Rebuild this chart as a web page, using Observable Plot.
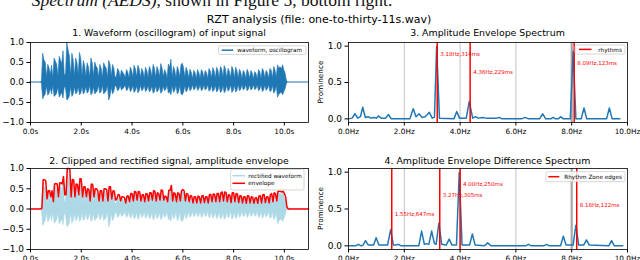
<!DOCTYPE html>
<html>
<head>
<meta charset="utf-8">
<script src="https://cdn.jsdelivr.net/npm/d3@7"></script>
<script src="https://cdn.jsdelivr.net/npm/@observablehq/plot@0.6"></script>
<style>
html,body{margin:0;padding:0;background:#fff;}
#fig{position:relative;width:640px;height:260px;overflow:hidden;background:#fff;}
#fig svg{position:absolute;overflow:visible;}
</style>
</head>
<body>
<div id="fig"></div>
<script>
// ---------------- data ----------------
const timeDomain = [0, 10.95];
const timeTicks = [0, 2, 4, 6, 8, 10];
const ampTicks = [-1, -0.5, 0, 0.5, 1];
const hzDomain = [0, 10];
const hzTicks = [0, 2, 4, 6, 8, 10];
const promTicks = [0, 0.5, 1];
const gridHz = [2, 4, 6];
const gridHzStrong = [8];

// waveform / envelope samples, every 0.05 s starting at 0.40 s
const sampleStart = 0.40, sampleStep = 0.05;
const envelope = [
  0, 0.02, 0.72, 0.72, 0.70, 0.25, 0.45, 0.45, 0.30, 0.45,
  0.18, 0.62, 0.63, 0.62, 0.30, 0.64, 0.65, 0.62, 0.80, 0.35,
  0.35, 1.00, 1.00, 0.98, 0.30, 0.73, 0.72, 0.30, 0.62, 0.60,
  0.35, 0.75, 0.74, 0.30, 0.55, 0.55, 0.30, 0.50, 0.48, 0.20,
  0.62, 0.60, 0.30, 0.50, 0.50, 0.45, 0.20, 0.45, 0.45, 0.20,
  0.50, 0.50, 0.48, 0.20, 0.55, 0.55, 0.25, 0.45, 0.44, 0.22,
  0.25, 0.35, 0.35, 0.20, 0.30, 0.30, 0.28, 0.15, 0.32, 0.32,
  0.18, 0.38, 0.38, 0.20, 0.43, 0.42, 0.22, 0.43, 0.42, 0.20,
  0.35, 0.35, 0.18, 0.38, 0.37, 0.20, 0.40, 0.40, 0.22, 0.45,
  0.44, 0.20, 0.40, 0.38, 0.22, 0.47, 0.46, 0.22, 0.32, 0.30,
  0.18, 0.46, 0.46, 0.58, 0.20, 0.40, 0.38, 0.18, 0.40, 0.38,
  0.20, 0.45, 0.48, 0.45, 0.20, 0.38, 0.36, 0.18, 0.33, 0.32,
  0.15, 0.30, 0.30, 0.15, 0.32, 0.30, 0.15, 0.32, 0.33, 0.16,
  0.30, 0.30, 0.15, 0.35, 0.36, 0.18, 0.37, 0.36, 0.18, 0.38,
  0.38, 0.18, 0.40, 0.42, 0.20, 0.42, 0.41, 0.18, 0.35, 0.34,
  0.16, 0.40, 0.40, 0.18, 0.38, 0.37, 0.16, 0.33, 0.32, 0.15,
  0.30, 0.30, 0.14, 0.33, 0.32, 0.15, 0.30, 0.29, 0.14, 0.27,
  0.28, 0.14, 0.32, 0.33, 0.15, 0.35, 0.36, 0.16, 0.30, 0.30,
  0.15, 0.35, 0.38, 0.18, 0.40, 0.38, 0.20, 0.44, 0.44, 0.43,
  0.42, 0.44, 0.38, 0.30, 0.05, 0, 0
];
const waveTop = [
  0, 0.03, 0.72, 0.55, 0.50, 0.12, 0.44, 0.35, 0.18, 0.42,
  0.10, 0.60, 0.52, 0.45, 0.15, 0.64, 0.55, 0.45, 0.78, 0.18,
  0.20, 1.00, 0.80, 0.65, 0.15, 0.72, 0.55, 0.15, 0.60, 0.48,
  0.18, 0.74, 0.58, 0.15, 0.54, 0.42, 0.14, 0.48, 0.38, 0.11,
  0.60, 0.48, 0.15, 0.50, 0.40, 0.35, 0.11, 0.44, 0.35, 0.11,
  0.48, 0.40, 0.35, 0.11, 0.54, 0.45, 0.14, 0.44, 0.35, 0.12,
  0.14, 0.34, 0.28, 0.11, 0.30, 0.24, 0.20, 0.10, 0.31, 0.25,
  0.10, 0.37, 0.30, 0.12, 0.42, 0.33, 0.13, 0.42, 0.33, 0.11,
  0.34, 0.27, 0.10, 0.37, 0.29, 0.12, 0.39, 0.31, 0.13, 0.44,
  0.35, 0.12, 0.39, 0.30, 0.13, 0.46, 0.36, 0.13, 0.31, 0.24,
  0.10, 0.45, 0.36, 0.57, 0.12, 0.39, 0.30, 0.10, 0.39, 0.30,
  0.12, 0.44, 0.47, 0.35, 0.12, 0.37, 0.28, 0.10, 0.32, 0.25,
  0.09, 0.29, 0.24, 0.09, 0.31, 0.24, 0.09, 0.31, 0.26, 0.10,
  0.29, 0.24, 0.09, 0.34, 0.28, 0.10, 0.36, 0.28, 0.10, 0.37,
  0.30, 0.10, 0.39, 0.33, 0.12, 0.41, 0.32, 0.10, 0.34, 0.27,
  0.10, 0.39, 0.31, 0.10, 0.37, 0.29, 0.10, 0.32, 0.25, 0.09,
  0.29, 0.24, 0.08, 0.32, 0.25, 0.09, 0.29, 0.23, 0.08, 0.26,
  0.22, 0.08, 0.31, 0.26, 0.09, 0.34, 0.28, 0.10, 0.29, 0.24,
  0.09, 0.34, 0.30, 0.10, 0.39, 0.30, 0.12, 0.43, 0.35, 0.38,
  0.33, 0.43, 0.30, 0.22, 0.04, 0, 0
];
const waveBottom = [
  0, -0.03, -0.42, -0.35, -0.30, -0.10, -0.33, -0.28, -0.15, -0.30,
  -0.08, -0.36, -0.33, -0.28, -0.12, -0.38, -0.32, -0.26, -0.40, -0.12,
  -0.15, -0.45, -0.42, -0.35, -0.12, -0.36, -0.30, -0.12, -0.30, -0.26,
  -0.12, -0.32, -0.28, -0.12, -0.30, -0.25, -0.11, -0.28, -0.24, -0.08,
  -0.32, -0.28, -0.12, -0.30, -0.26, -0.22, -0.08, -0.28, -0.24, -0.08,
  -0.30, -0.26, -0.22, -0.08, -0.45, -0.36, -0.12, -0.30, -0.24, -0.09,
  -0.11, -0.22, -0.19, -0.08, -0.20, -0.17, -0.14, -0.07, -0.22, -0.18,
  -0.08, -0.24, -0.20, -0.09, -0.26, -0.22, -0.10, -0.27, -0.22, -0.08,
  -0.22, -0.19, -0.08, -0.24, -0.20, -0.09, -0.25, -0.21, -0.10, -0.28,
  -0.24, -0.09, -0.25, -0.21, -0.10, -0.28, -0.24, -0.10, -0.22, -0.18,
  -0.08, -0.28, -0.24, -0.32, -0.09, -0.26, -0.21, -0.08, -0.30, -0.25,
  -0.09, -0.30, -0.32, -0.25, -0.09, -0.25, -0.20, -0.08, -0.22, -0.18,
  -0.07, -0.20, -0.17, -0.07, -0.21, -0.17, -0.07, -0.22, -0.19, -0.07,
  -0.20, -0.17, -0.07, -0.23, -0.20, -0.08, -0.24, -0.20, -0.08, -0.25,
  -0.21, -0.08, -0.26, -0.23, -0.09, -0.27, -0.22, -0.08, -0.23, -0.19,
  -0.07, -0.26, -0.22, -0.08, -0.25, -0.21, -0.07, -0.22, -0.18, -0.07,
  -0.20, -0.17, -0.07, -0.22, -0.18, -0.07, -0.20, -0.17, -0.07, -0.19,
  -0.17, -0.07, -0.22, -0.19, -0.07, -0.24, -0.20, -0.08, -0.21, -0.17,
  -0.07, -0.24, -0.22, -0.08, -0.28, -0.23, -0.09, -0.38, -0.30, -0.28,
  -0.25, -0.32, -0.24, -0.16, -0.03, 0, 0
];

// Amplitude Envelope Spectrum: [Hz, prominence]
const aesSpectrum = [
  [0,0],[0.13,0.01],[0.23,0.07],[0.33,0.01],[0.43,0.03],[0.51,0.16],[0.60,0.02],[0.70,0.03],
  [0.80,0.01],[0.90,0.02],[1.00,0.01],[1.07,0.04],[1.17,0.01],[1.33,0.01],[1.43,0.06],[1.53,0],
  [2.20,0],[2.32,0.14],[2.42,0.03],[2.53,0.07],[2.63,0.02],[2.75,0.03],[2.90,0.09],[3.00,0.01],
  [3.08,0.02],[3.16,1.0],[3.26,0.01],[3.78,0],[3.88,0.10],[3.98,0.01],[4.22,0.01],[4.33,0.24],
  [4.45,0.01],[4.55,0.03],[4.65,0.01],[4.80,0.02],[4.95,0.01],[5.10,0.01],[5.30,0.01],[5.40,0.02],
  [5.50,0],[6.20,0],[6.33,0.02],[6.45,0],[6.85,0],[6.96,0.07],[7.07,0],[7.25,0],[7.33,0.02],
  [7.42,0],[7.52,0],[7.60,0.03],[7.70,0],[7.95,0],[8.05,0.93],[8.15,0],[8.34,0],[8.44,0.15],
  [8.54,0],[9.25,0],[9.35,0.15],[9.45,0],[9.73,0]
];
// Amplitude Envelope Difference Spectrum: [Hz, prominence]
const aedsSpectrum = [
  [0,0],[0.25,0],[0.35,0.02],[0.45,0],[0.52,0.01],[0.61,0.07],[0.71,0.01],[0.90,0.01],
  [0.99,0.11],[1.09,0.01],[1.40,0.01],[1.51,0.22],[1.61,0.01],[1.70,0.01],[1.79,0.02],[1.89,0],
  [2.52,0],[2.62,0.20],[2.72,0.02],[2.80,0.03],[2.88,0.02],[2.98,0.20],[3.08,0.03],[3.14,0.02],
  [3.24,0.31],[3.34,0.02],[3.50,0.01],[3.61,0.09],[3.71,0.01],[3.87,0.01],[3.97,1.0],[4.07,0.01],
  [4.34,0.01],[4.44,0.16],[4.54,0.01],[4.88,0],[4.99,0.04],[5.10,0],[6.35,0],[6.45,0.02],[6.55,0],
  [7.00,0],[7.10,0.02],[7.20,0],[7.60,0],[7.70,0.13],[7.80,0.01],[8.05,0.01],[8.15,0.28],[8.25,0.01],
  [8.43,0.01],[8.53,0.08],[8.63,0.01],[9.33,0],[9.43,0.07],[9.53,0],[9.83,0]
];

const rhythmsHz = [3.18, 4.36, 8.09];
const rhythmLabels = ["3.18Hz,314ms", "4.36Hz,229ms", "8.09Hz,123ms"];
const rhythmLabelY = [0.895, 0.642, 0.762];
const zoneHz = [1.55, 3.27, 4.00, 8.18];
const zoneLabels = ["1.55Hz,647ms", "3.27Hz,305ms", "4.00Hz,250ms", "8.18Hz,122ms"];
const zoneLabelY = [0.423, 0.682, 0.832, 0.55];

// ---------------- build ----------------
const C0 = "#1f77b4", RED = "#ff0000", LIGHT = "#add8e6";
const FONT = "DejaVu Sans";
const fig = document.getElementById("fig");

const wave = [{t: timeDomain[0], up: 0, lo: 0, env: 0}]
  .concat(waveTop.map((u, i) => ({t: sampleStart + i * sampleStep, up: u, lo: waveBottom[i], env: envelope[i]})))
  .concat([{t: timeDomain[1], up: 0, lo: 0, env: 0}]);
const aes = aesSpectrum.map(([f, v]) => ({f, v}));
const aeds = aedsSpectrum.map(([f, v]) => ({f, v}));
const rhythmText = rhythmsHz.map((f, i) => ({f, v: rhythmLabelY[i], label: rhythmLabels[i]}));
const zoneText = zoneHz.map((f, i) => ({f, v: zoneLabelY[i], label: zoneLabels[i]}));

const style = {fontFamily: FONT, fontSize: "9px", background: "transparent", color: "black", overflow: "visible"};
const fmt1 = d3.format(".1f");
const axesTime = () => [
  Plot.frame({stroke: "black", strokeWidth: 0.8}),
  Plot.axisX({ticks: timeTicks, tickFormat: d => d.toFixed(1) + "s", tickSize: 3.5, tickPadding: 2.5, fontSize: 7.3, label: null}),
  Plot.axisY({ticks: ampTicks, tickFormat: fmt1, tickSize: 3.5, tickPadding: 3, fontSize: 9, label: null})
];
const axesHz = () => [
  Plot.frame({stroke: "black", strokeWidth: 0.8}),
  Plot.axisX({ticks: hzTicks, tickFormat: d => d.toFixed(1) + "Hz", tickSize: 3.5, tickPadding: 2.5, fontSize: 7.3, label: null}),
  Plot.axisY({ticks: promTicks, tickFormat: fmt1, tickSize: 3.5, tickPadding: 3, fontSize: 9, label: null})
];

function place(el, left, top) {
  el.style.position = "absolute";
  el.style.left = left + "px";
  el.style.top = top + "px";
  fig.appendChild(el);
}

// 1. waveform
place(Plot.plot({
  width: 320, height: 104, marginLeft: 30, marginRight: 12, marginTop: 6, marginBottom: 18,
  style,
  x: {domain: timeDomain}, y: {domain: [-1, 1]},
  marks: [
    Plot.areaY(wave, {x: "t", y1: "lo", y2: "up", fill: C0, stroke: C0, strokeWidth: 0.6}),
    ...axesTime()
  ]
}), 0, 36);

// 2. rectified + envelope
place(Plot.plot({
  width: 320, height: 100, marginLeft: 30, marginRight: 12, marginTop: 8, marginBottom: 11,
  style,
  x: {domain: timeDomain}, y: {domain: [-1, 1]},
  marks: [
    Plot.areaY(wave, {x: "t", y1: "lo", y2: "up", fill: LIGHT, stroke: LIGHT, strokeWidth: 0.6}),
    Plot.lineY(wave, {x: "t", y: "env", stroke: RED, strokeWidth: 1.5}),
    ...axesTime()
  ]
}), 0, 160);

// 3. AES
place(Plot.plot({
  width: 320, height: 104, marginLeft: 28, marginRight: 13, marginTop: 6, marginBottom: 18,
  style,
  x: {domain: hzDomain}, y: {domain: [-0.05, 1.05]},
  marks: [
    Plot.ruleX(gridHz, {stroke: "#c4c4c4", strokeWidth: 1}),
    Plot.ruleX(gridHzStrong, {stroke: "#a8a8a8", strokeWidth: 2.2}),
    Plot.lineY(aes, {x: "f", y: "v", stroke: C0, strokeWidth: 1.5}),
    Plot.ruleX(rhythmsHz, {stroke: RED, strokeWidth: 1.5}),
    Plot.text(rhythmText, {x: "f", y: "v", text: "label", dx: 3, textAnchor: "start", fill: RED, fontSize: 5.5}),
    ...axesHz()
  ]
}), 320, 36);

// 4. AEDS
place(Plot.plot({
  width: 320, height: 100, marginLeft: 28, marginRight: 13, marginTop: 8, marginBottom: 11,
  style,
  x: {domain: hzDomain}, y: {domain: [-0.05, 1.05]},
  marks: [
    Plot.ruleX(gridHz, {stroke: "#c4c4c4", strokeWidth: 1}),
    Plot.ruleX(gridHzStrong, {stroke: "#a8a8a8", strokeWidth: 2.2}),
    Plot.lineY(aeds, {x: "f", y: "v", stroke: C0, strokeWidth: 1.5}),
    Plot.ruleX(zoneHz, {stroke: RED, strokeWidth: 1.5}),
    Plot.text(zoneText, {x: "f", y: "v", text: "label", dx: 3, textAnchor: "start", fill: RED, fontSize: 5.5}),
    ...axesHz()
  ]
}), 320, 160);

// ---------------- titles, labels, legends (overlay) ----------------
const ov = d3.create("svg").attr("width", 640).attr("height", 260)
  .style("position", "absolute").style("left", "0px").style("top", "0px")
  .style("pointer-events", "none").attr("font-family", FONT);

const cap = ov.append("text").attr("x", 31.7).attr("y", 6)
  .attr("font-family", "Liberation Serif").attr("font-size", 17.5).attr("fill", "#111");
cap.append("tspan").attr("font-style", "italic").text("Spectrum (AEDS)");
cap.append("tspan").text(", shown in Figure 5, bottom right.");

function title(x, y, size, str) {
  ov.append("text").attr("x", x).attr("y", y).attr("font-size", size)
    .attr("text-anchor", "middle").attr("fill", "black").text(str);
}
title(319, 23.3, 11, "RZT analysis (file: one-to-thirty-11s.wav)");
title(169, 36.3, 9.4, "1. Waveform (oscillogram) of input signal");
title(487.5, 36.3, 9.4, "3. Amplitude Envelope Spectrum");
title(169, 163.5, 9.4, "2. Clipped and rectified signal, amplitude envelope");
title(487.5, 163.5, 9.4, "4. Amplitude Envelope Difference Spectrum");

function ylabel(cy) {
  ov.append("text").attr("transform", `translate(322.6,${cy}) rotate(-90)`)
    .attr("font-size", 7.3).attr("text-anchor", "middle").attr("fill", "black").text("Prominence");
}
ylabel(82);
ylabel(208.5);

function legend(x, y, w, h, entries) {
  ov.append("rect").attr("x", x).attr("y", y).attr("width", w).attr("height", h).attr("rx", 1.5)
    .attr("fill", "white").attr("fill-opacity", 0.8).attr("stroke", "#cccccc").attr("stroke-width", 0.8);
  for (const e of entries) {
    ov.append("line").attr("x1", e.x1).attr("x2", e.x2).attr("y1", e.y).attr("y2", e.y)
      .attr("stroke", e.color).attr("stroke-width", 1.5);
    ov.append("text").attr("x", e.tx).attr("y", e.y + 2.1).attr("font-size", 5.7).attr("fill", "black").text(e.label);
  }
}
legend(218.5, 45.8, 87.5, 8.6, [{x1: 221.7, x2: 233.3, y: 50.2, tx: 237.3, color: C0, label: "waveform, oscillogram"}]);
legend(575, 45, 50, 9, [{x1: 579, x2: 591.5, y: 49.4, tx: 598.3, color: RED, label: "rhythms"}]);
legend(230.7, 169.3, 73.3, 20.7, [
  {x1: 232.5, x2: 245, y: 175.7, tx: 248.3, color: LIGHT, label: "rectified waveform"},
  {x1: 232.5, x2: 245, y: 183.3, tx: 248.3, color: RED, label: "envelope"}
]);
legend(546, 171.7, 79, 10, [{x1: 548.3, x2: 559.3, y: 176.7, tx: 564.3, color: RED, label: "Rhythm Zone edges"}]);

fig.appendChild(ov.node());
</script>
</body>
</html>
